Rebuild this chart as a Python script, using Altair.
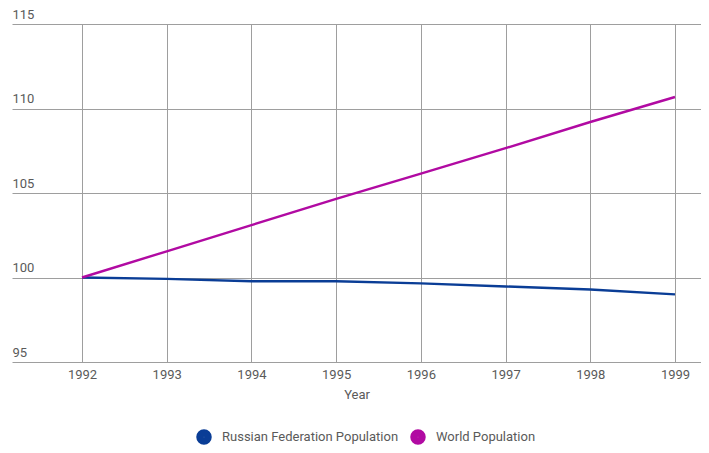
import altair as alt
import pandas as pd

years = [1992, 1993, 1994, 1995, 1996, 1997, 1998, 1999]
russia = [100.0, 99.92, 99.78, 99.78, 99.65, 99.47, 99.29, 99.0]
world = [100.0, 101.55, 103.1, 104.65, 106.15, 107.65, 109.2, 110.68]
series_names = ["Russian Federation Population", "World Population"]
colors = ["#0a3d96", "#b10aa2"]
y_ticks = [95, 100, 105, 110, 115]

rows = []
for y, v in zip(years, russia):
    rows.append({"Year": y, "value": v, "series": series_names[0]})
for y, v in zip(years, world):
    rows.append({"Year": y, "value": v, "series": series_names[1]})
df = pd.DataFrame(rows)

W = 689
px_per_year = 593 / 7
xmin = 1992 - 70 / px_per_year
xmax = xmin + W / px_per_year

font = "Roboto"
lab = "#5a5a5a"
fs = 13

chart = (
    alt.Chart(df)
    .mark_line(strokeWidth=2.4, interpolate="linear")
    .encode(
        x=alt.X(
            "Year:Q",
            scale=alt.Scale(domain=[xmin, xmax], nice=False, zero=False),
            axis=alt.Axis(
                values=years, format="d", title="Year", grid=True, domain=False,
                ticks=False, labelPadding=6, labelFontSize=fs, labelColor=lab,
                labelFont=font, titleFont=font, titleFontSize=fs, titleColor=lab,
                titleFontWeight="normal", titlePadding=7,
            ),
        ),
        y=alt.Y(
            "value:Q",
            scale=alt.Scale(domain=[95, 115], nice=False, zero=False),
            axis=alt.Axis(
                values=y_ticks, title=None, grid=True, domain=False, ticks=False,
                labelAlign="left", labelBaseline="bottom", labelPadding=0,
                labelOffset=-3, labelFontSize=fs, labelColor=lab, labelFont=font,
            ),
        ),
        color=alt.Color(
            "series:N",
            scale=alt.Scale(domain=series_names, range=colors),
            legend=alt.Legend(
                title=None, orient="none", direction="horizontal",
                legendX=184, legendY=405, symbolType="circle", symbolSize=64,
                symbolStrokeWidth=7.5, symbolOpacity=1, labelFont=font,
                labelFontSize=fs, labelColor=lab, padding=0, columnPadding=0,
                labelOffset=10, labelLimit=400,
            ),
        ),
        order=alt.Order("series:N"),
    )
    .properties(
        width=W, height=338,
        autosize=alt.AutoSizeParams(type="none"),
        padding={"left": 4, "top": 16, "right": 0, "bottom": 83},
    )
    .configure_view(stroke=None)
    .configure_axis(gridColor="#9e9e9e", gridWidth=1, gridOpacity=1)
)

chart.save("out.html", embed_options={"renderer": "svg", "actions": False})
